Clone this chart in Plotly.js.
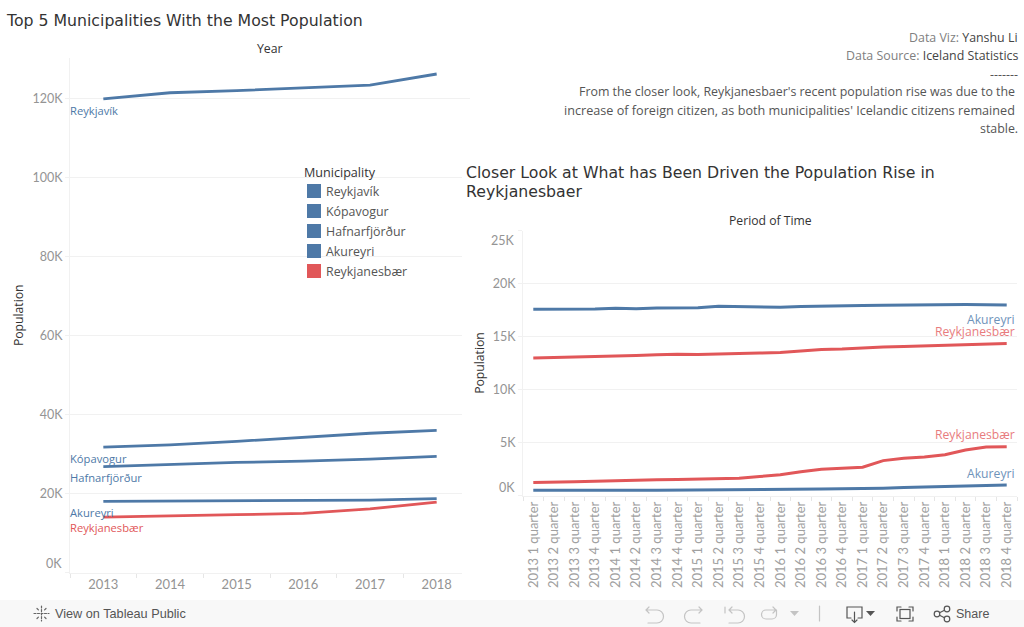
<!DOCTYPE html>
<html><head><meta charset="utf-8">
<script src="https://cdn.plot.ly/plotly-3.0.1.min.js"></script>
<style>html,body{margin:0;padding:0;background:#fff;overflow:hidden}#c{width:1024px;height:627px;position:absolute;left:0;top:0}
#tb{position:absolute;left:0;top:600px;width:1024px;height:27px;pointer-events:none}</style>
</head><body>
<div id="c"></div>
<svg id="tb" viewBox="0 600 1024 27" fill="none" stroke-linecap="round">
 <g stroke="#666" stroke-width="1.2">
  <path d="M41.500 606v15M34 613.500h15M37 608.500l2 2M46 608.500l-2 2M37 618.500l2-2M46 618.500l-2-2" stroke-dasharray="2 1.5"/>
 </g>
 <g stroke="#c4c4c4" stroke-width="1.2">
  <path d="M646 610h11a6 6 0 0 1 0 13h-9M649 607l-3 3 3 3"/>
  <path d="M702 610h-11a6 6 0 0 0 0 13h9M699 607l3 3-3 3"/>
  <path d="M725 607v6M729 610h9a6 6 0 0 1 0 13h-9M732 607l-3 3 3 3"/>
  <path d="M776 610h-10a4.500 4.500 0 0 0 0 9h6a4.500 4.500 0 0 0 4.500-4.500V610M773 607l3 3-3 3"/>
  <path d="M819.500 606v15"/>
 </g>
 <path d="M790 611h9l-4.500 5z" fill="#c4c4c4"/>
 <g stroke="#555" stroke-width="1.2">
  <path d="M858 618h4v-11h-15v11h4M854.500 612v10M852 620l2.500 2.500 2.500-2.500"/>
  <path d="M897 611v-4h4M913 611v-4h-4M897 617v4h4M913 617v4h-4"/>
  <rect x="900" y="609.500" width="10" height="9"/>
  <circle cx="937" cy="614" r="2.800"/><circle cx="947" cy="609" r="2.800"/><circle cx="947" cy="619" r="2.800"/>
  <path d="M939.500 612.800l5-2.500M939.500 615.200l5 2.500"/>
 </g>
 <path d="M866 611h9l-4.500 5z" fill="#555"/>
</svg>
<script>
const years = ['2013','2014','2015','2016','2017','2018'];
const reykjavik = [119900,121450,122000,122650,123400,126200];
const kopavogur = [31719,32308,33205,34140,35246,35970];
const hafnarfjordur = [26808,27357,27875,28189,28703,29412];
const akureyri = [18000,18100,18170,18250,18330,18700];
const reykjanesbaer = [14000,14250,14630,14950,16100,17790];

const quarters = ['2013 1 quarter','2013 2 quarter','2013 3 quarter','2013 4 quarter','2014 1 quarter','2014 2 quarter','2014 3 quarter','2014 4 quarter','2015 1 quarter','2015 2 quarter','2015 3 quarter','2015 4 quarter','2016 1 quarter','2016 2 quarter','2016 3 quarter','2016 4 quarter','2017 1 quarter','2017 2 quarter','2017 3 quarter','2017 4 quarter','2018 1 quarter','2018 2 quarter','2018 3 quarter','2018 4 quarter'];
const akureyriIcelandic = [17560,17570,17540,17600,17670,17620,17700,17710,17720,17850,17800,17770,17770,17830,17840,17870,17920,17950,17980,18030,18000,18020,18000,17970];
const reykjanesIcelandic = [12960,13000,13080,13100,13120,13200,13280,13330,13300,13330,13380,13440,13500,13650,13780,13820,13930,14000,14050,14100,14170,14200,14220,14330];
const reykjanesForeign = [1220,1240,1290,1350,1420,1450,1490,1520,1560,1590,1630,1790,1950,2250,2470,2560,2660,3290,3510,3630,3850,4290,4580,4610];
const akureyriForeign = [490,500,530,510,480,500,500,510,520,510,510,530,570,600,610,640,650,690,750,810,860,890,940,990];

const leftTicks = [0,20000,40000,60000,80000,100000,120000];
const leftTickText = ['','20K','40K','60K','80K','100K','120K'];
const rightTicks = [0,5000,10000,15000,20000,25000];
const rightTickText = ['','5K','10K','15K','20K',''];
const legendNames = ['Reykjavík','Kópavogur','Hafnarfjörður','Akureyri','Reykjanesbær'];

const W=1024,H=627;
const X=p=>p/W, Y=p=>1-p/H;
const BLUE='#4e79a7', RED='#e15759';
const F='Lato, "Noto Sans", sans-serif', B='"Open Sans", "Noto Sans", sans-serif', TF='"DejaVu Sans", sans-serif';
const GRID='#f1f1f1', TICK='#949494';

function line(x,y,c,name,xa,ya,w){return {x,y,name,type:'scatter',mode:'lines',xaxis:xa,yaxis:ya,showlegend:false,line:{color:c,width:w||2.8},hoverinfo:'x+y+name'};}
const traces=[
 line(years,reykjavik,BLUE,'Reykjavík','x','y'),
 line(years,kopavogur,BLUE,'Kópavogur','x','y'),
 line(years,hafnarfjordur,BLUE,'Hafnarfjörður','x','y'),
 line(years,akureyri,BLUE,'Akureyri','x','y'),
 line(years,reykjanesbaer,RED,'Reykjanesbær','x','y'),
 line(quarters,akureyriIcelandic,BLUE,'Akureyri','x2','y2',3),
 line(quarters,reykjanesIcelandic,RED,'Reykjanesbær','x2','y2',3),
 line(quarters,reykjanesForeign,RED,'Reykjanesbær','x2','y2',3),
 line(quarters,akureyriForeign,BLUE,'Akureyri','x2','y2',3)
];

function note(text,px,py,o){
 o=o||{};
 const dx=o.xanchor==='right'?2:(o.xanchor==='center'?0:-2);
 return Object.assign({text,x:X(px+dx),y:Y(py),xref:'paper',yref:'paper',showarrow:false,xanchor:'left',yanchor:'middle',font:{family:F,size:11,color:'#333'}},o);
}
const ann=[
 note('Top 5 Municipalities With the Most Population',6,20,{font:{family:TF,size:15.72,color:'#333'}}),
 note('Closer Look at What has Been Driven the Population Rise in',466,172,{font:{family:TF,size:15.72,color:'#333'}}),
 note('Reykjanesbaer',466,191,{font:{family:TF,size:15.72,color:'#333'}}),
 note('Year',270,48.5,{xanchor:'center',font:{family:B,size:12.3,color:'#333'}}),
 note('Period of Time',770,220.5,{xanchor:'center',font:{family:B,size:12.2,color:'#333'}}),
 note('0K',62,563,{xanchor:'right',font:{family:F,size:12.5,color:TICK}}),
 note('0K',515,487,{xanchor:'right',font:{family:F,size:12.5,color:TICK}}),
 note('25K',515,240,{xanchor:'right',font:{family:F,size:12.5,color:TICK}}),
 note('Reykjavík',70,110,{font:{family:B,size:11.2,color:BLUE}}),
 note('Kópavogur',70,458,{font:{family:B,size:11.2,color:BLUE}}),
 note('Hafnarfjörður',70,477,{font:{family:B,size:11.2,color:BLUE}}),
 note('Akureyri',70,512,{font:{family:B,size:11.2,color:BLUE}}),
 note('Reykjanesbær',70,527,{font:{family:B,size:11.2,color:RED}}),
 note('Akureyri',1015,319,{xanchor:'right',font:{family:B,size:12.2,color:'#6f93ba'}}),
 note('Reykjanesbær',1015,331,{xanchor:'right',font:{family:B,size:12.2,color:'#e87c7e'}}),
 note('Reykjanesbær',1015,434,{xanchor:'right',font:{family:B,size:12.2,color:'#e87c7e'}}),
 note('Akureyri',1015,473,{xanchor:'right',font:{family:B,size:12.2,color:'#6f93ba'}}),
 note('Municipality',304,172,{font:{family:B,size:12.6,color:'#333'}}),
 note('Data Viz: <span style="color:#444">Yanshu Li</span>',1018,38,{xanchor:'right',font:{family:B,size:12.4,color:'#808080'}}),
 note('Data Source: <span style="color:#444">Iceland Statistics</span>',1018,56,{xanchor:'right',font:{family:B,size:12.4,color:'#808080'}}),
 note('-------',1018,74,{xanchor:'right',font:{family:B,size:12.4,color:'#555'}}),
 note('From the closer look, Reykjanesbaer\'s recent population rise was due to the',1015,92,{xanchor:'right',font:{family:B,size:12.4,color:'#555'}}),
 note('increase of foreign citizen, as both municipalities\' Icelandic citizens remained',1015,110,{xanchor:'right',font:{family:B,size:12.65,color:'#555'}}),
 note('stable.',1018,128,{xanchor:'right',font:{family:B,size:12.4,color:'#555'}}),
 note('View on Tableau Public',55,613.5,{font:{family:'"Liberation Sans", sans-serif',size:12.7,color:'#555'}}),
 note('Share',956,613.5,{font:{family:'"Liberation Sans", sans-serif',size:12.5,color:'#555'}})
];
const shapes=[
 {type:'rect',xref:'paper',yref:'paper',x0:X(462),x1:X(472),y0:Y(600),y1:Y(150),fillcolor:'#fff',line:{width:0},layer:'above'},
 {type:'rect',xref:'paper',yref:'paper',x0:0,x1:1,y0:0,y1:Y(600),fillcolor:'#f8f8f8',line:{width:0},layer:'above'}
];
legendNames.forEach((n,i)=>{
 const cy=191+20*i;
 shapes.push({type:'rect',xref:'paper',yref:'paper',x0:X(307),x1:X(321),y0:Y(cy+7),y1:Y(cy-7),fillcolor:i==4?RED:BLUE,line:{width:0},layer:'above'});
 ann.push(note(n,326,cy+0.5,{font:{family:B,size:12.4,color:'#555'}}));
});
const xbase={type:'category',showgrid:false,zeroline:false,showline:true,linecolor:GRID,linewidth:1,ticks:'outside',tickson:'boundaries',ticklen:4,tickcolor:'#e6e6e6',tickfont:{family:F,size:13,color:TICK}};
const ybase={tickmode:'array',showgrid:true,gridcolor:GRID,gridwidth:1,zeroline:false,showline:true,linecolor:GRID,ticks:'outside',ticklen:4,tickcolor:GRID,tickfont:{family:F,size:12.5,color:TICK}};
const layout={width:W,height:H,margin:{l:0,r:0,t:0,b:0},paper_bgcolor:'#fff',plot_bgcolor:'rgba(0,0,0,0)',showlegend:false,hovermode:false,
 xaxis:Object.assign({},xbase,{domain:[X(70),X(470)],range:[-0.5,5.5],anchor:'y'}),
 yaxis:Object.assign({},ybase,{domain:[Y(572.5),Y(58)],range:[0,130250],tickvals:leftTicks,ticktext:leftTickText,anchor:'x',title:{text:'Population',standoff:6,font:{family:B,size:12.2,color:'#333'}}}),
 xaxis2:Object.assign({},xbase,{domain:[X(523),X(1017)],range:[-0.5,23.5],anchor:'y2',tickangle:-90,tickfont:{family:F,size:13,color:'#a0a0a0'}}),
 yaxis2:Object.assign({},ybase,{domain:[Y(495.5),Y(230.5)],range:[0,25000],tickvals:rightTicks,ticktext:rightTickText,anchor:'x2',title:{text:'Population',standoff:5,font:{family:B,size:12.2,color:'#333'}}}),
 annotations:ann,shapes:shapes};
Plotly.newPlot('c',traces,layout,{displayModeBar:false,responsive:false,staticPlot:true});
</script>
</body></html>
